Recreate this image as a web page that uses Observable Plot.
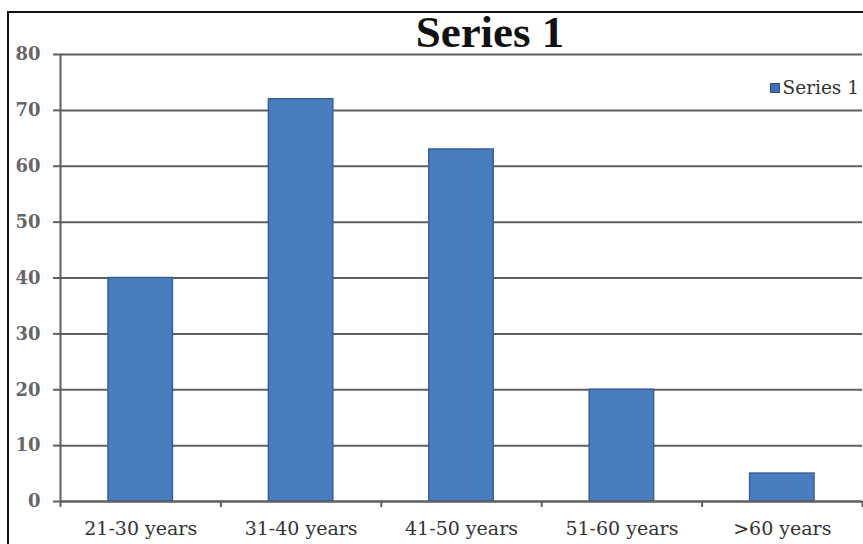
<!DOCTYPE html>
<html>
<head>
<meta charset="utf-8">
<script src="https://cdn.jsdelivr.net/npm/d3@7"></script>
<script src="https://cdn.jsdelivr.net/npm/@observablehq/plot@0.6"></script>
<style>
  html, body { margin: 0; padding: 0; background: #fff; }
  #wrap { position: relative; width: 863px; height: 544px; overflow: hidden; background: #fff; }
  #border { position: absolute; left: 7px; top: 11px; width: 900px; height: 600px; border: 2px solid #111; box-sizing: border-box; }
  #title { position: absolute; left: 0; width: 980px; top: 8px; text-align: center; font-family: "Liberation Serif", serif; font-weight: bold; font-size: 45px; color: #111; line-height: 48px; }
  #legend { position: absolute; right: 4px; top: 77px; display: flex; align-items: center; font-family: "DejaVu Serif", serif; font-size: 18.5px; color: #333; }
  #legend .sw { width: 8px; height: 8px; background: #3f6fb5; border: 1px solid #2c4f86; margin-right: 3px; }
  #chart { position: absolute; left: 0; top: 0; }
</style>
</head>
<body>
<div id="wrap">
  <div id="border"></div>
  <div id="chart"></div>
  <div id="title"></div>
  <div id="legend"><div class="sw"></div><span id="legtext"></span></div>
</div>
<script>
const title = "Series 1";
const seriesName = "Series 1";
const categories = ["21-30 years", "31-40 years", "41-50 years", "51-60 years", ">60 years"];
const values = [40, 72, 63, 20, 5];
const yTicks = [0, 10, 20, 30, 40, 50, 60, 70, 80];

document.getElementById("title").textContent = title;
document.getElementById("legtext").textContent = seriesName;

const data = categories.map((c, i) => ({category: c, i, value: values[i]}));
const centers = categories.map((c, i) => i + 0.5);
const bounds = d3.range(categories.length + 1);

const chart = Plot.plot({
  width: 863,
  height: 544,
  marginLeft: 60,
  marginRight: 1,
  marginTop: 54,
  marginBottom: 43,
  style: {background: "transparent", overflow: "visible"},
  x: {domain: [0, categories.length]},
  y: {domain: [0, 80]},
  marks: [
    Plot.gridY(yTicks, {stroke: "#5f5f5f", strokeOpacity: 1, strokeWidth: 2}),
    Plot.rectY(data, {x1: "i", x2: d => d.i + 1, y: "value", insetLeft: 48, insetRight: 48,
      fill: "#4a7dbd", stroke: "#35609a", strokeWidth: 1.5}),
    Plot.ruleX([0], {stroke: "#5f5f5f", strokeWidth: 2}),
    Plot.ruleY([0], {stroke: "#5f5f5f", strokeWidth: 2}),
    Plot.axisY(yTicks, {tickSize: 7, tickPadding: 13, stroke: "#5f5f5f", strokeWidth: 2,
      fontFamily: "DejaVu Serif", fontWeight: "bold", fontSize: 18, fill: "#666", label: null}),
    Plot.axisX(bounds, {tickSize: 6, tickFormat: () => "", stroke: "#5f5f5f", strokeWidth: 2, label: null}),
    Plot.axisX(centers, {tickSize: 0, tickPadding: 20, tickFormat: (d) => categories[Math.floor(d)],
      fontFamily: "DejaVu Serif", fontSize: 19, fill: "#333", label: null})
  ]
});
document.getElementById("chart").appendChild(chart);
</script>
</body>
</html>
